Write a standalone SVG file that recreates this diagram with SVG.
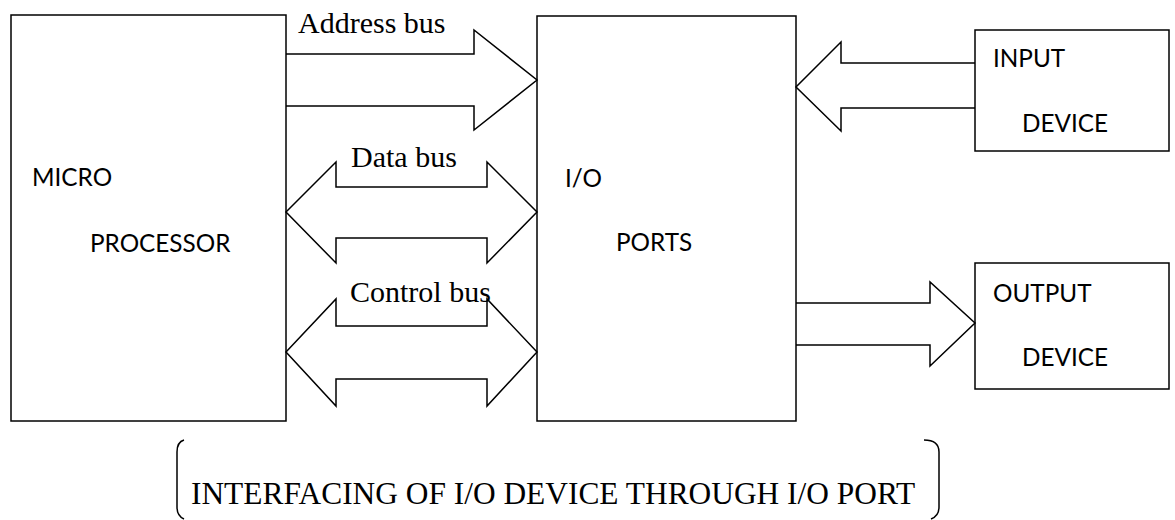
<svg xmlns="http://www.w3.org/2000/svg" width="1175" height="520" viewBox="0 0 1175 520">
<style>
.box{fill:#fff;stroke:#000;stroke-width:1.5}
.arr{fill:none;stroke:#000;stroke-width:1.5;stroke-linejoin:miter}
.br{fill:none;stroke:#000;stroke-width:1.5}
.lbl{font-family:"Liberation Serif","Times New Roman",serif;font-size:30px;fill:#000}
.cap{font-family:"Liberation Serif","Times New Roman",serif;font-size:31.4px;fill:#000}
.nt{font-family:Lato,"Liberation Sans",sans-serif;font-size:24.3px;fill:#000}
</style>
<rect width="1175" height="520" fill="#fff"/>
<g id="microprocessor">
<rect class="box" x="11" y="15" width="275" height="406"/>
<text class="nt" x="32" y="186">MICRO</text>
<text class="nt" x="90" y="252">PROCESSOR</text>
</g>
<g id="io-ports">
<rect class="box" x="537" y="16" width="259" height="405"/>
<text class="nt" x="565" y="187">I/O</text>
<text class="nt" x="616" y="251">PORTS</text>
</g>
<g id="input-device">
<rect class="box" x="975" y="30" width="194" height="121"/>
<text class="nt" x="993" y="67">INPUT</text>
<text class="nt" x="1022" y="132">DEVICE</text>
</g>
<g id="output-device">
<rect class="box" x="975" y="263" width="194" height="126"/>
<text class="nt" x="993" y="302">OUTPUT</text>
<text class="nt" x="1022" y="366">DEVICE</text>
</g>
<g id="connectors">
<path class="arr" d="M286,54 L474,54 L474,30 L537,80 L474,130 L474,106 L286,106"/>
<path class="arr" d="M286,212 L336,162 L336,187 L487,187 L487,162 L537,212 L487,263 L487,238 L336,238 L336,263 Z"/>
<path class="arr" d="M286,352 L336,299 L336,326 L487,326 L487,299 L537,352 L487,406 L487,379 L336,379 L336,406 Z"/>
<path class="arr" d="M975,63 L841,63 L841,42 L796,87 L841,131 L841,108 L975,108"/>
<path class="arr" d="M796,303 L930,303 L930,282 L975,323 L930,366 L930,345 L796,345"/>
</g>
<g id="labels">
<text class="lbl" x="298" y="33">Address bus</text>
<text class="lbl" x="351" y="167">Data bus</text>
<text class="lbl" x="350" y="302">Control bus</text>
</g>
<g id="caption">
<path class="br" d="M184,440 Q177,442 177,452 L177,507 Q177,516 184,519"/>
<path class="br" d="M924,440 Q939,440 939,452 L939,507 Q939,516 931,519"/>
<text class="cap" x="191" y="504">INTERFACING OF I/O DEVICE THROUGH I/O PORT</text>
</g>
</svg>
